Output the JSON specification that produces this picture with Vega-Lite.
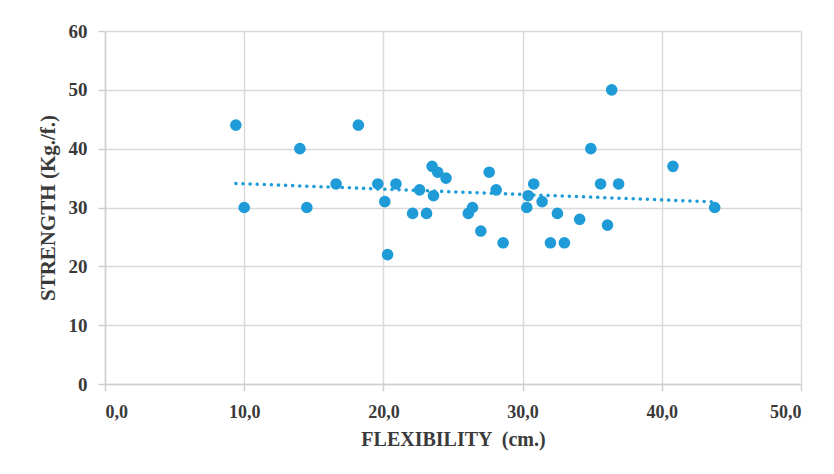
{
  "$schema": "https://vega.github.io/schema/vega-lite/v6.json",
  "width": 696,
  "height": 353,
  "autosize": "none",
  "padding": {"left": 105, "top": 31, "right": 33, "bottom": 90},
  "background": "white",
  "config": {
    "view": {"stroke": null},
    "font": "Liberation Serif"
  },
  "data": {
    "values": [
      {"flex": 9.4, "strength": 44},
      {"flex": 10.0, "strength": 30},
      {"flex": 14.0, "strength": 40},
      {"flex": 14.5, "strength": 30},
      {"flex": 16.6, "strength": 34},
      {"flex": 18.2, "strength": 44},
      {"flex": 19.6, "strength": 34},
      {"flex": 20.1, "strength": 31},
      {"flex": 20.3, "strength": 22},
      {"flex": 20.9, "strength": 34},
      {"flex": 22.1, "strength": 29},
      {"flex": 22.6, "strength": 33},
      {"flex": 23.1, "strength": 29},
      {"flex": 23.5, "strength": 37},
      {"flex": 23.6, "strength": 32},
      {"flex": 23.9, "strength": 36},
      {"flex": 24.5, "strength": 35},
      {"flex": 26.1, "strength": 29},
      {"flex": 26.4, "strength": 30},
      {"flex": 27.0, "strength": 26},
      {"flex": 27.6, "strength": 36},
      {"flex": 28.1, "strength": 33},
      {"flex": 28.6, "strength": 24},
      {"flex": 30.3, "strength": 30},
      {"flex": 30.4, "strength": 32},
      {"flex": 30.8, "strength": 34},
      {"flex": 31.4, "strength": 31},
      {"flex": 32.0, "strength": 24},
      {"flex": 32.5, "strength": 29},
      {"flex": 33.0, "strength": 24},
      {"flex": 34.1, "strength": 28},
      {"flex": 34.9, "strength": 40},
      {"flex": 35.6, "strength": 34},
      {"flex": 36.1, "strength": 27},
      {"flex": 36.4, "strength": 50},
      {"flex": 36.9, "strength": 34},
      {"flex": 40.8, "strength": 37},
      {"flex": 43.8, "strength": 30}
    ]
  },
  "encoding": {
    "x": {
      "field": "flex",
      "type": "quantitative",
      "scale": {"domain": [0, 50], "nice": false, "zero": true},
      "axis": {
        "title": "FLEXIBILITY \u00a0(cm.)",
        "values": [0, 10, 20, 30, 40, 50],
        "labelExpr": "replace(format(datum.value, '.1f'), '.', ',')",
        "labelFont": "Liberation Serif",
        "labelFontSize": 18,
        "labelFontWeight": "bold",
        "labelColor": "#3a3a3a",
        "labelPadding": 12,
        "titleFont": "Liberation Serif",
        "titleFontSize": 20,
        "titleFontWeight": "bold",
        "titleColor": "#3a3a3a",
        "titlePadding": 8,
        "grid": true,
        "gridColor": "#d9d9d9",
        "gridWidth": 1.5,
        "domainColor": "#d0d0d0",
        "domainWidth": 1.5,
        "tickColor": "#d0d0d0",
        "tickSize": 7,
        "tickWidth": 1.5
      }
    },
    "y": {
      "field": "strength",
      "type": "quantitative",
      "scale": {"domain": [0, 60], "nice": false},
      "axis": {
        "title": "STRENGTH (Kg./f.)",
        "values": [0, 10, 20, 30, 40, 50, 60],
        "labelFont": "Liberation Serif",
        "labelFontSize": 19,
        "labelFontWeight": "bold",
        "labelColor": "#3a3a3a",
        "labelPadding": 11,
        "titleFont": "Liberation Serif",
        "titleFontSize": 21,
        "titleFontWeight": "bold",
        "titleColor": "#3a3a3a",
        "titlePadding": 10,
        "grid": true,
        "gridColor": "#d9d9d9",
        "gridWidth": 1.5,
        "domainColor": "#d0d0d0",
        "domainWidth": 1.5,
        "tickColor": "#d0d0d0",
        "tickSize": 7,
        "tickWidth": 1.5
      }
    }
  },
  "layer": [
    {
      "mark": {"type": "point", "filled": true, "size": 135, "opacity": 1, "color": "#1f9bd7"}
    },
    {
      "transform": [{"regression": "strength", "on": "flex"}],
      "mark": {"type": "line", "color": "#1f9bd7", "strokeWidth": 3.5, "strokeCap": "round", "strokeDash": [0.1, 7]}
    }
  ]
}
